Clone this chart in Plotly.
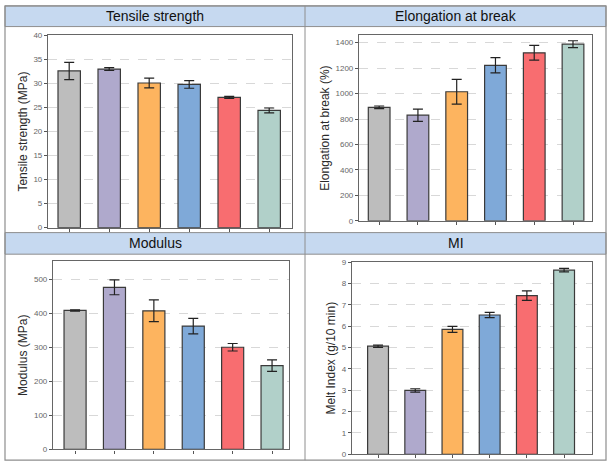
import plotly.graph_objects as go

W, H = 615, 476

samples = ["S1", "S2", "S3", "S4", "S5", "S6"]
colors = ["#BDBDBD", "#AFA9CC", "#FDB45F", "#7FA9D8", "#F86D70", "#B1D0C9"]

tensile = [32.6, 33.0, 30.1, 29.8, 27.1, 24.4]
tensile_err = [1.8, 0.3, 1.0, 0.8, 0.2, 0.5]

elong = [892, 830, 1014, 1222, 1320, 1388]
elong_err = [10, 48, 97, 60, 58, 27]

modulus = [408, 476, 407, 362, 300, 246]
modulus_err = [2, 22, 32, 23, 11, 17]

mi = [5.06, 2.99, 5.85, 6.52, 7.43, 8.62]
mi_err = [0.05, 0.08, 0.14, 0.12, 0.22, 0.08]

titles = ["Tensile strength", "Elongation at break", "Modulus", "MI"]
ytitles = ["Tensile strength (MPa)", "Elongation at break (%)", "Modulus (MPa)", "Melt Index (g/10 min)"]

def px_x(p):
    return p / W

def px_y(p):
    return 1 - p / H

panels = [
    dict(vals=tensile, err=tensile_err, box=(48, 292, 32, 228), yr=[0, 40], dt=5, xr=[-0.53, 5.57]),
    dict(vals=elong, err=elong_err, box=(359, 592, 32, 221), yr=[0, 1457], dt=200, xr=[-0.52, 5.49]),
    dict(vals=modulus, err=modulus_err, box=(53, 289, 262, 454), yr=[0, 553], dt=100, xr=[-0.56, 5.43]),
    dict(vals=mi, err=mi_err, box=(352, 592, 263, 459), yr=[0, 9], dt=1, xr=[-0.7, 5.75]),
]

fig = go.Figure()
font_fam = "Liberation Sans, Arial, sans-serif"

for i, p in enumerate(panels):
    n = "" if i == 0 else str(i + 1)
    fig.add_trace(go.Bar(
        x=list(range(len(samples))), y=p["vals"],
        marker=dict(color=colors, line=dict(color="#3a3a3a", width=1.2)),
        width=0.56,
        error_y=dict(type="data", array=p["err"], color="#222222", thickness=1.2, width=5),
        xaxis="x" + n, yaxis="y" + n, showlegend=False,
    ))
    x0, x1, y0, y1 = p["box"]
    fig.layout["xaxis" + n] = dict(
        domain=[px_x(x0), px_x(x1)], anchor="y" + n, range=p["xr"],
        tickvals=list(range(len(samples))), ticktext=[""] * len(samples),
        ticks="outside", ticklen=3, tickcolor="#555", tickwidth=1,
        showline=True, linecolor="#666", linewidth=1.2, mirror=True,
        showgrid=False, zeroline=False, fixedrange=True,
    )
    fig.layout["yaxis" + n] = dict(
        domain=[px_y(y1), px_y(y0)], anchor="x" + n, range=p["yr"],
        dtick=p["dt"], tick0=0,
        ticks="outside", ticklen=3, tickcolor="#555", tickwidth=1,
        tickfont=dict(size=8, color="#666", family=font_fam),
        showline=True, linecolor="#666", linewidth=1.2, mirror=True,
        showgrid=True, gridcolor="#d8d8d8", griddash="dash", gridwidth=1,
        zeroline=False,
        title=dict(text=ytitles[i], font=dict(size=12, color="#2a2a2a", family=font_fam), standoff=3),
    )

# table structure
table_left, table_right, table_top, table_bottom = 5, 606, 2, 465
mid_x = 305
headers = [(2, 23), (233, 255)]
shapes = []
for (ht, hb) in headers:
    shapes.append(dict(type="rect", xref="paper", yref="paper",
                       x0=px_x(table_left), x1=px_x(table_right), y0=px_y(hb), y1=px_y(ht),
                       fillcolor="#C6D9F0", line=dict(color="#8e8e8e", width=1), layer="below"))
shapes.append(dict(type="rect", xref="paper", yref="paper",
                   x0=px_x(table_left), x1=px_x(table_right), y0=px_y(table_bottom), y1=px_y(table_top),
                   fillcolor="rgba(0,0,0,0)", line=dict(color="#8e8e8e", width=1.2), layer="below"))
shapes.append(dict(type="line", xref="paper", yref="paper",
                   x0=px_x(mid_x), x1=px_x(mid_x), y0=px_y(table_bottom), y1=px_y(table_top),
                   line=dict(color="#8e8e8e", width=1), layer="below"))
fig.update_layout(shapes=shapes)

annots = []
centers = [((table_left + mid_x) / 2, 12.5), ((mid_x + table_right) / 2, 12.5),
           ((table_left + mid_x) / 2, 244), ((mid_x + table_right) / 2, 244)]
for t, (cx, cy) in zip(titles, centers):
    annots.append(dict(text=t, xref="paper", yref="paper", x=px_x(cx), y=px_y(cy),
                       xanchor="center", yanchor="middle", showarrow=False,
                       font=dict(size=14, color="#111", family=font_fam)))
fig.update_layout(annotations=annots)

fig.update_layout(
    width=W, height=H, margin=dict(l=0, r=0, t=0, b=0),
    paper_bgcolor="white", plot_bgcolor="white", bargap=0.4,
)

fig.write_html("out.html")
